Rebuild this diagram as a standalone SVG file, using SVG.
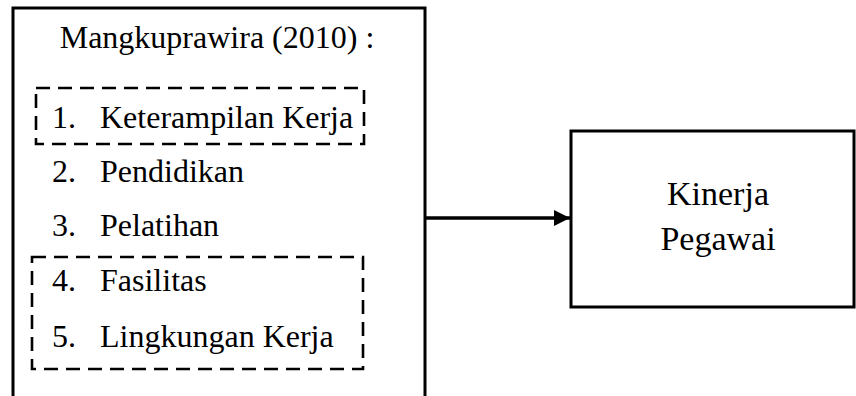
<svg xmlns="http://www.w3.org/2000/svg" width="856" height="396" viewBox="0 0 856 396">
<style>
.box{fill:#fff;stroke:#000;stroke-width:3}
.dash{fill:none;stroke:#000;stroke-width:2.6;stroke-dasharray:14 8}
.conn{stroke:#000;stroke-width:3.5;fill:none}
</style>
<defs>
<marker id="ah" viewBox="0 0 16 16" refX="16" refY="8" markerWidth="16" markerHeight="16" markerUnits="userSpaceOnUse" orient="auto">
<path d="M0,0 L16,8 L0,16 z" fill="#000"/>
</marker>
</defs>
<g id="factors">
<rect class="box" x="13" y="8" width="412" height="400"/>
<text x="217" y="48" text-anchor="middle" font-family="Liberation Serif" font-size="32">Mangkuprawira (2010) :</text>
<rect class="dash" x="36" y="88" width="328" height="56"/>
<rect class="dash" x="32" y="257" width="331" height="112"/>
<text x="52" y="128" font-family="Liberation Serif" font-size="32">1.</text><text x="100" y="128" font-family="Liberation Serif" font-size="32">Keterampilan Kerja</text>
<text x="52" y="182" font-family="Liberation Serif" font-size="32">2.</text><text x="100" y="182" font-family="Liberation Serif" font-size="32">Pendidikan</text>
<text x="52" y="236" font-family="Liberation Serif" font-size="32">3.</text><text x="100" y="236" font-family="Liberation Serif" font-size="32">Pelatihan</text>
<text x="52" y="291" font-family="Liberation Serif" font-size="32">4.</text><text x="100" y="291" font-family="Liberation Serif" font-size="32">Fasilitas</text>
<text x="52" y="347" font-family="Liberation Serif" font-size="32">5.</text><text x="100" y="347" font-family="Liberation Serif" font-size="32">Lingkungan Kerja</text>
</g>
<g id="kinerja">
<rect class="box" x="571" y="131" width="283" height="176"/>
<text x="718" y="205" text-anchor="middle" font-family="Liberation Serif" font-size="34">Kinerja</text>
<text x="718" y="250" text-anchor="middle" font-family="Liberation Serif" font-size="34">Pegawai</text>
</g>
<g id="connectors">
<line class="conn" x1="426" y1="218" x2="570" y2="218" marker-end="url(#ah)"/>
</g>
</svg>
